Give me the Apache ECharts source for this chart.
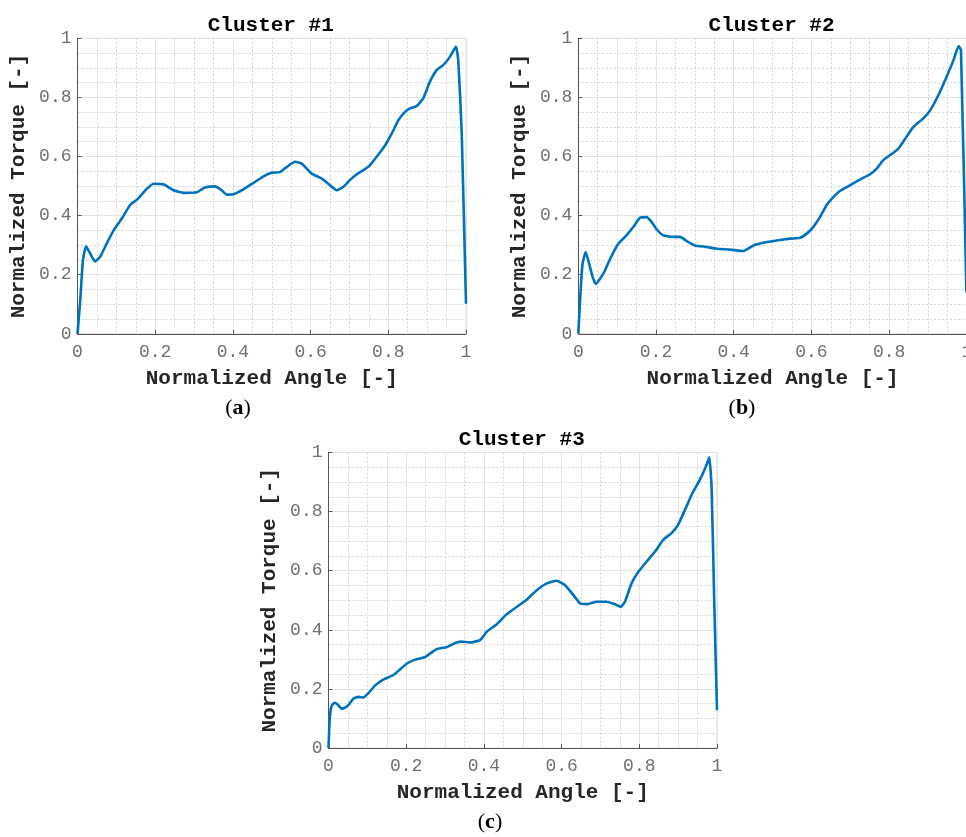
<!DOCTYPE html>
<html><head><meta charset="utf-8">
<script src="https://cdn.jsdelivr.net/npm/echarts@6/dist/echarts.min.js"></script>
<style>html,body{margin:0;padding:0;background:#fff;overflow:hidden;width:966px;height:837px}#c{width:990px;height:837px}</style>
</head><body><div id="c"></div>
<script>
const titles = ['Cluster #1', 'Cluster #2', 'Cluster #3'];
const captions = ['a', 'b', 'c'];
const xTitle = 'Normalized Angle [-]';
const yTitle = 'Normalized Torque [-]';

const cluster1X = [0,0.007,0.014,0.022,0.033,0.045,0.058,0.075,0.093,0.114,0.135,0.153,0.178,0.196,0.221,0.247,0.273,0.307,0.328,0.354,0.371,0.384,0.401,0.427,0.453,0.479,0.5,0.521,0.539,0.56,0.577,0.603,0.629,0.65,0.667,0.684,0.701,0.719,0.736,0.753,0.77,0.792,0.809,0.826,0.843,0.856,0.873,0.89,0.907,0.925,0.942,0.959,0.974,0.98,0.989,1.0];
const cluster1Y = [0,0.113,0.249,0.296,0.271,0.245,0.26,0.305,0.35,0.39,0.435,0.454,0.49,0.508,0.506,0.486,0.477,0.479,0.495,0.499,0.486,0.471,0.472,0.489,0.511,0.533,0.545,0.547,0.565,0.582,0.576,0.542,0.525,0.503,0.486,0.497,0.52,0.54,0.554,0.571,0.599,0.638,0.678,0.723,0.751,0.763,0.771,0.797,0.853,0.893,0.91,0.938,0.972,0.927,0.678,0.102];

const cluster2X = [0,0.006,0.011,0.019,0.028,0.037,0.045,0.056,0.069,0.082,0.103,0.124,0.142,0.159,0.176,0.189,0.202,0.219,0.24,0.262,0.279,0.3,0.33,0.356,0.391,0.425,0.451,0.476,0.511,0.545,0.571,0.588,0.605,0.622,0.639,0.657,0.674,0.7,0.725,0.751,0.768,0.785,0.803,0.824,0.845,0.863,0.888,0.906,0.927,0.948,0.966,0.979,0.985,0.999];
const cluster2Y = [0,0.147,0.237,0.277,0.237,0.192,0.169,0.186,0.215,0.254,0.305,0.333,0.362,0.393,0.395,0.378,0.353,0.333,0.328,0.328,0.314,0.299,0.294,0.288,0.285,0.28,0.299,0.308,0.316,0.322,0.325,0.339,0.362,0.395,0.435,0.463,0.484,0.503,0.522,0.54,0.559,0.588,0.605,0.627,0.667,0.701,0.729,0.757,0.808,0.87,0.927,0.974,0.96,0.14];

const cluster3X = [0,0.003,0.007,0.015,0.023,0.034,0.043,0.051,0.064,0.077,0.09,0.103,0.12,0.142,0.167,0.184,0.202,0.223,0.249,0.262,0.279,0.304,0.322,0.34,0.364,0.39,0.407,0.433,0.459,0.485,0.51,0.536,0.562,0.587,0.609,0.63,0.648,0.665,0.69,0.716,0.738,0.752,0.763,0.78,0.798,0.819,0.84,0.862,0.883,0.9,0.918,0.935,0.956,0.973,0.98,0.986,0.993,1.0];
const cluster3Y = [0,0.094,0.139,0.153,0.148,0.133,0.137,0.145,0.167,0.173,0.171,0.186,0.212,0.232,0.247,0.266,0.286,0.299,0.308,0.32,0.335,0.341,0.353,0.36,0.357,0.365,0.393,0.419,0.453,0.478,0.502,0.534,0.557,0.566,0.551,0.518,0.489,0.487,0.495,0.495,0.486,0.478,0.495,0.557,0.597,0.631,0.664,0.705,0.727,0.756,0.807,0.858,0.908,0.958,0.984,0.885,0.489,0.128];

const xs = [cluster1X, cluster2X, cluster3X];
const ys = [cluster1Y, cluster2Y, cluster3Y];

const boxes = [
  {left: 77.5, top: 38.3, width: 388.5, height: 295.5},
  {left: 578.3, top: 38.3, width: 388.5, height: 295.5},
  {left: 328.5, top: 452.5, width: 388.5, height: 295.5}
];

const mono = 'Liberation Mono';
const chart = echarts.init(document.getElementById('c'), null, {renderer: 'canvas', width: 990, height: 837});

const grids = [], xAxes = [], yAxes = [], series = [];
boxes.forEach((b, i) => {
  grids.push({left: b.left, top: b.top, width: b.width, height: b.height, show: true,
    borderColor: '#dcdcdc', borderWidth: 1, backgroundColor: 'transparent', containLabel: false});
  const common = {
    gridIndex: i, type: 'value', min: 0, max: 1, interval: 0.2,
    axisLine: {show: true, onZero: false, lineStyle: {color: '#555555', width: 1}},
    axisTick: {show: true, inside: true, length: 4, lineStyle: {color: '#555555'}},
    minorTick: {show: false, splitNumber: 4},
    splitLine: {show: true, lineStyle: {color: '#e3e3e3', width: 1}},
    minorSplitLine: {show: true, lineStyle: {color: '#d4d4d4', width: 1, type: [2, 2]}},
    axisLabel: {fontFamily: mono, fontSize: 18, color: '#707070',
      formatter: v => (v === 0 ? '0' : v === 1 ? '1' : v.toFixed(1))},
    nameLocation: 'middle',
    nameTextStyle: {fontFamily: mono, fontSize: 21, fontWeight: 'bold', color: '#262626'}
  };
  xAxes.push(Object.assign({}, common, {name: xTitle, nameGap: 34,
    axisLabel: Object.assign({}, common.axisLabel, {margin: 9})}));
  yAxes.push(Object.assign({}, common, {name: yTitle, nameGap: 48,
    axisLabel: Object.assign({}, common.axisLabel, {margin: 6})}));
  series.push({
    type: 'line', xAxisIndex: i, yAxisIndex: i, showSymbol: false, symbol: 'none',
    smooth: 0.15, clip: true,
    lineStyle: {color: '#0072BD', width: 2.6}, animation: false,
    data: xs[i].map((x, k) => [x, ys[i][k]])
  });
});

const titleTexts = boxes.map((b, i) => ({
  type: 'text', x: b.left + b.width / 2 - 1, y: b.top - 13,
  style: {text: titles[i], font: 'bold 21px "Liberation Mono"', fill: '#000', align: 'center', verticalAlign: 'middle'}
}));
const capPos = [[238, 408], [742, 408], [490, 822]];
const captionTexts = capPos.map((p, i) => ({type: 'text', x: p[0], y: p[1],
  style: {rich: {p: {font: '22px "Liberation Serif"', fill: '#000'}, b: {font: 'bold 22px "Liberation Serif"', fill: '#000'}},
    text: '{p|(}{b|' + captions[i] + '}{p|)}', align: 'center', verticalAlign: 'middle'}}));

chart.setOption({
  animation: false,
  backgroundColor: '#ffffff',
  grid: grids, xAxis: xAxes, yAxis: yAxes, series: series,
  graphic: titleTexts.concat(captionTexts)
});
</script></body></html>
